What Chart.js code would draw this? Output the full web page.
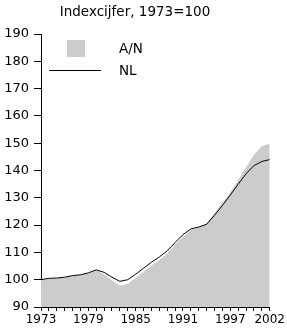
<!DOCTYPE html>
<html>
<head>
<meta charset="utf-8">
<script src="https://cdn.jsdelivr.net/npm/chart.js@4/dist/chart.umd.min.js"></script>
<style>
  body { margin: 0; background: #fff; }
  #wrap { width: 287px; height: 329px; }
</style>
</head>
<body>
<div id="wrap"><canvas id="chart" width="287" height="329"></canvas></div>
<script>
// Indexcijfers, 1973 = 100
const years = [1973, 1974, 1975, 1976, 1977, 1978, 1979, 1980, 1981, 1982,
               1983, 1984, 1985, 1986, 1987, 1988, 1989, 1990, 1991, 1992,
               1993, 1994, 1995, 1996, 1997, 1998, 1999, 2000, 2001, 2002];
const nl = [100, 100.5, 100.6, 100.9, 101.5, 101.8, 102.5, 103.6, 102.7, 100.9,
            99.4, 100.0, 102.0, 104.2, 106.4, 108.3, 110.6, 113.6, 116.5, 118.6,
            119.3, 120.3, 123.6, 127.2, 131.0, 135.0, 138.8, 141.8, 143.3, 144.0];
const an = [100, 100.3, 100.5, 100.8, 101.4, 101.7, 102.4, 103.5, 102.0, 99.8,
            97.8, 98.5, 100.6, 102.9, 105.2, 107.2, 109.6, 112.8, 115.8, 118.2,
            119.2, 120.6, 124.5, 128.2, 132.0, 136.5, 141.2, 145.8, 149.0, 149.8];
const labelYears = [1973, 1979, 1985, 1991, 1997, 2002];

const FONT = 'DejaVu Sans';

// legend drawn inside the plot, like the original
const legendInside = {
    id: 'legendInside',
    afterDraw(chart) {
        const ctx = chart.ctx;
        ctx.save();
        ctx.fillStyle = '#cccccc';
        ctx.fillRect(67, 40, 18, 17);
        ctx.strokeStyle = '#000';
        ctx.lineWidth = 1;
        ctx.beginPath();
        ctx.moveTo(49, 70.5);
        ctx.lineTo(101, 70.5);
        ctx.stroke();
        ctx.fillStyle = '#000';
        ctx.font = '13.5px ' + FONT;
        ctx.textBaseline = 'middle';
        ctx.textAlign = 'left';
        ctx.fillText('A/N', 119, 49.5);
        ctx.fillText('NL', 119, 71);
        ctx.restore();
    }
};

const ctx = document.getElementById('chart').getContext('2d');
new Chart(ctx, {
    type: 'line',
    data: {
        datasets: [{
            label: 'NL',
            data: years.map((y, i) => ({ x: y, y: nl[i] })),
            borderColor: '#000',
            borderWidth: 1,
            pointRadius: 0,
            fill: false,
            order: 0
        }, {
            label: 'A/N',
            data: years.map((y, i) => ({ x: y, y: an[i] })),
            borderWidth: 0,
            borderColor: 'rgba(0,0,0,0)',
            backgroundColor: '#cccccc',
            pointRadius: 0,
            fill: 'start',
            order: 1
        }]
    },
    options: {
        responsive: false,
        animation: false,
        layout: { padding: { top: 0, right: 17, left: 0, bottom: 0 } },
        plugins: {
            legend: { display: false },
            tooltip: { enabled: false },
            title: {
                display: true,
                text: 'Indexcijfer, 1973=100',
                color: '#000',
                font: { family: FONT, size: 13.5, weight: 'normal' },
                padding: { top: 4, bottom: 13.8 }
            }
        },
        scales: {
            x: {
                type: 'linear',
                min: 1973,
                max: 2002,
                afterFit: scale => { scale.height = 22; },
                afterBuildTicks: scale => {
                    scale.ticks = years.map(y => ({ value: y }));
                },
                ticks: {
                    autoSkip: false,
                    maxRotation: 0,
                    padding: 2,
                    color: '#000',
                    font: { family: FONT, size: 12 },
                    callback: v => labelYears.includes(v) ? String(v) : ''
                },
                grid: {
                    drawOnChartArea: false,
                    drawTicks: true,
                    tickLength: 4,
                    color: '#000'
                },
                border: { display: true, color: '#000', width: 1 }
            },
            y: {
                min: 90,
                max: 190,
                afterFit: scale => { scale.width = 41; },
                ticks: {
                    stepSize: 10,
                    padding: 5,
                    color: '#000',
                    font: { family: FONT, size: 13 }
                },
                grid: {
                    drawOnChartArea: false,
                    drawTicks: true,
                    tickLength: 7,
                    color: '#000'
                },
                border: { display: true, color: '#000', width: 1 }
            }
        }
    },
    plugins: [legendInside]
});
</script>
</body>
</html>
